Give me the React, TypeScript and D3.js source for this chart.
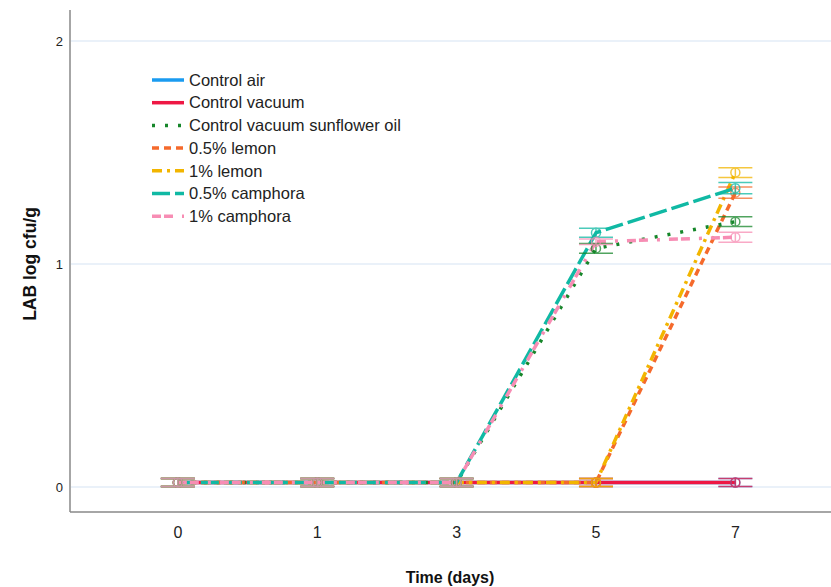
import React, { useEffect, useRef } from 'react';
import * as d3 from 'd3';

const days = ['0', '1', '3', '5', '7'];
const yTicks = [0, 1, 2];

const controlAir = [0.02, 0.02, 0.02, 0.02, 0.02];
const controlVacuum = [0.02, 0.02, 0.02, 0.02, 0.02];
const sunflowerOil = [0.02, 0.02, 0.02, 1.07, 1.19];
const lemon05 = [0.02, 0.02, 0.02, 0.02, 1.32];
const lemon1 = [0.02, 0.02, 0.02, 0.02, 1.41];
const camphora05 = [0.02, 0.02, 0.02, 1.14, 1.34];
const camphora1 = [0.02, 0.02, 0.02, 1.1, 1.12];

// standard error half-widths
const errAir = [0.018, 0.018, 0.018, 0.018, 0.018];
const errVacuum = [0.018, 0.018, 0.018, 0.018, 0.018];
const errSunflower = [0.018, 0.018, 0.018, 0.022, 0.022];
const errLemon05 = [0.018, 0.018, 0.018, 0.018, 0.025];
const errLemon1 = [0.018, 0.018, 0.018, 0.018, 0.022];
const errCamphora05 = [0.018, 0.018, 0.018, 0.02, 0.025];
const errCamphora1 = [0.018, 0.018, 0.018, 0.012, 0.022];

const seriesNames = [
  'Control air',
  'Control vacuum',
  'Control vacuum sunflower oil',
  '0.5% lemon',
  '1% lemon',
  '0.5% camphora',
  '1% camphora',
];

const series = [
  { name: seriesNames[0], values: controlAir, err: errAir, color: '#1a9bf0', dash: null },
  { name: seriesNames[1], values: controlVacuum, err: errVacuum, color: '#ee1744', dash: null },
  { name: seriesNames[2], values: sunflowerOil, err: errSunflower, color: '#16862a', dash: '3,10' },
  { name: seriesNames[3], values: lemon05, err: errLemon05, color: '#f56a2c', dash: '7,5' },
  { name: seriesNames[4], values: lemon1, err: errLemon1, color: '#f2b500', dash: '10,5,3,5' },
  { name: seriesNames[5], values: camphora05, err: errCamphora05, color: '#10b9a4', dash: '18,5' },
  { name: seriesNames[6], values: camphora1, err: errCamphora1, color: '#f78db4', dash: '9,3,9,9,3,9' },
];

const App = () => {
  const chartRef = useRef(null);

  useEffect(() => {
    if (!chartRef.current) return;
    const svg = d3.select(chartRef.current);
    svg.selectAll('*').remove();

    const left = 70, right = 831, top = 10, bottom = 512;
    const font = '"Liberation Sans", Arial, sans-serif';

    const x = d3.scalePoint().domain(days).range([left, right]).padding(0.73).align(0.53);
    const y = d3.scaleLinear().domain([0, 2]).range([487, 41]);

    // gridlines
    svg.append('g')
      .selectAll('line')
      .data(yTicks)
      .join('line')
      .attr('x1', left + 1).attr('x2', right)
      .attr('y1', d => y(d)).attr('y2', d => y(d))
      .attr('stroke', '#e3ecf7').attr('stroke-width', 1.5);

    // axes lines
    svg.append('line').attr('x1', left).attr('x2', left).attr('y1', top).attr('y2', bottom)
      .attr('stroke', '#888').attr('stroke-width', 1.5);
    svg.append('line').attr('x1', left).attr('x2', right).attr('y1', bottom).attr('y2', bottom)
      .attr('stroke', '#888').attr('stroke-width', 1.5);

    svg.append('g').selectAll('text').data(yTicks).join('text')
      .attr('x', 63).attr('y', d => y(d)).attr('dy', '0.35em')
      .attr('text-anchor', 'end').attr('font-family', font).attr('font-size', 13)
      .attr('fill', '#222').text(d => d);

    svg.append('g').selectAll('text').data(days).join('text')
      .attr('x', d => x(d)).attr('y', 532).attr('dy', '0.35em')
      .attr('text-anchor', 'middle').attr('font-family', font).attr('font-size', 16)
      .attr('fill', '#222').text(d => d);

    svg.append('text').attr('x', 450).attr('y', 577).attr('dy', '0.35em')
      .attr('text-anchor', 'middle').attr('font-family', font).attr('font-size', 16)
      .attr('font-weight', 'bold').attr('fill', '#111').text('Time (days)');

    svg.append('text').attr('transform', `translate(30,${y(1)}) rotate(-90)`).attr('dy', '0.35em')
      .attr('text-anchor', 'middle').attr('font-family', font).attr('font-size', 17.5)
      .attr('font-weight', 'bold').attr('fill', '#111').text('LAB log cfu/g');

    const line = d3.line().x((d, i) => x(days[i])).y(d => y(d));

    // lines
    series.forEach(s => {
      svg.append('path')
        .datum(s.values)
        .attr('d', line)
        .attr('fill', 'none')
        .attr('stroke', s.color)
        .attr('stroke-width', 3.5)
        .attr('stroke-dasharray', s.dash)
        .attr('stroke-linejoin', 'round');
    });

    // error bars and markers
    const cap = 17;
    series.forEach(s => {
      const g = svg.append('g').attr('opacity', 0.75);
      s.values.forEach((v, i) => {
        const cx = x(days[i]);
        const lo = y(v - s.err[i]), hi = y(v + s.err[i]);
        g.append('line').attr('x1', cx).attr('x2', cx).attr('y1', lo).attr('y2', hi)
          .attr('stroke', s.color).attr('stroke-width', 1.5);
        [lo, hi].forEach(py => {
          g.append('line').attr('x1', cx - cap).attr('x2', cx + cap).attr('y1', py).attr('y2', py)
            .attr('stroke', s.color).attr('stroke-width', 1.5);
        });
        g.append('circle').attr('cx', cx).attr('cy', y(v)).attr('r', 4.5)
          .attr('fill', 'none').attr('stroke', s.color).attr('stroke-width', 1.5);
      });
    });

    // legend
    const legend = svg.append('g');
    series.forEach((s, i) => {
      const ly = 80 + i * 22.7;
      legend.append('line').attr('x1', 152).attr('x2', 184).attr('y1', ly).attr('y2', ly)
        .attr('stroke', s.color).attr('stroke-width', 3.5).attr('stroke-dasharray', s.dash);
      legend.append('text').attr('x', 189).attr('y', ly).attr('dy', '0.35em')
        .attr('font-family', font).attr('font-size', 16.5).attr('fill', '#222').text(s.name);
    });
  }, []);

  return (
    <div style={{ position: 'absolute', left: 0, top: 0 }}>
      <svg ref={chartRef} width={831} height={587} style={{ display: 'block', background: '#fff' }}></svg>
    </div>
  );
};

export default App;
